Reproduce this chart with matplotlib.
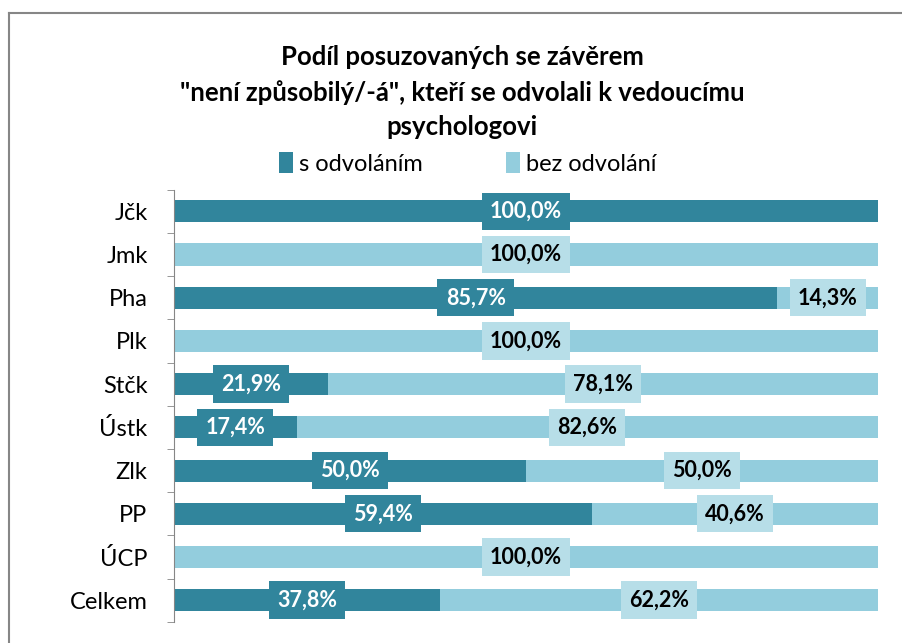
import numpy as np
import matplotlib.pyplot as plt
from matplotlib.lines import Line2D

plt.rcParams['font.family'] = ['Lato', 'DejaVu Sans']

categories = ['Jčk', 'Jmk', 'Pha', 'Plk', 'Stčk', 'Ústk', 'Zlk', 'PP', 'ÚCP', 'Celkem']
s_odvolanim = [100.0, 0.0, 85.7, 0.0, 21.9, 17.4, 50.0, 59.4, 0.0, 37.8]
bez_odvolani = [0.0, 100.0, 14.3, 100.0, 78.1, 82.6, 50.0, 40.6, 100.0, 62.2]

dark = '#31859C'
light = '#93CDDD'
light_box = '#B7DEE8'

fig = plt.figure(figsize=(9.03, 6.43), dpi=100)
ax = fig.add_axes([0.1927, 0.033, 0.7796, 0.672])

y = np.arange(len(categories))
h = 0.51
ax.barh(y, s_odvolanim, h, color=dark, label='s odvoláním')
ax.barh(y, bez_odvolani, h, left=s_odvolanim, color=light, label='bez odvolání')

def fmt(v):
    return ('%.1f%%' % v).replace('.', ',')

for i in range(len(categories)):
    a = s_odvolanim[i]
    b = bez_odvolani[i]
    if a > 0:
        ax.text(a / 2, i, fmt(a), ha='center', va='center', color='white',
                fontsize=15.5, fontweight='bold',
                bbox=dict(boxstyle='square,pad=0.38', fc=dark, ec='none'))
    if b > 0:
        ax.text(a + b / 2, i, fmt(b), ha='center', va='center', color='black',
                fontsize=15.5, fontweight='bold',
                bbox=dict(boxstyle='square,pad=0.38', fc=light_box, ec='none'))

ax.set_xlim(0, 100)
ax.set_ylim(len(categories) - 0.5, -0.5)
ax.set_xticks([])
ax.set_yticks(y)
ax.set_yticklabels(categories, fontsize=17)
ax.set_yticks(np.arange(len(categories) + 1) - 0.5, minor=True)
ax.tick_params(axis='y', which='major', length=0, pad=19)
ax.tick_params(axis='y', which='minor', length=5, color='#868686', direction='out')
for s in ['top', 'right', 'bottom']:
    ax.spines[s].set_visible(False)
ax.spines['left'].set_color('#868686')

fig.text(0.512, 0.857, 'Podíl posuzovaných se závěrem\n"není způsobilý/-á", kteří se odvolali k vedoucímu\npsychologovi',
         ha='center', va='center', fontsize=18.5, fontweight='bold', linespacing=1.5)

fig.legend(loc='center', bbox_to_anchor=(0.518, 0.746), ncol=2, frameon=False,
           fontsize=17, handlelength=0.6, handleheight=1.0, handletextpad=0.25,
           columnspacing=3.5)

# chart area border
fig.add_artist(Line2D([0.01, 0.01], [0.0, 0.98], color='#868686', lw=1.5, transform=fig.transFigure))
fig.add_artist(Line2D([0.01, 1.0], [0.98, 0.98], color='#868686', lw=1.5, transform=fig.transFigure))

fig.savefig('out.png', dpi=100)
